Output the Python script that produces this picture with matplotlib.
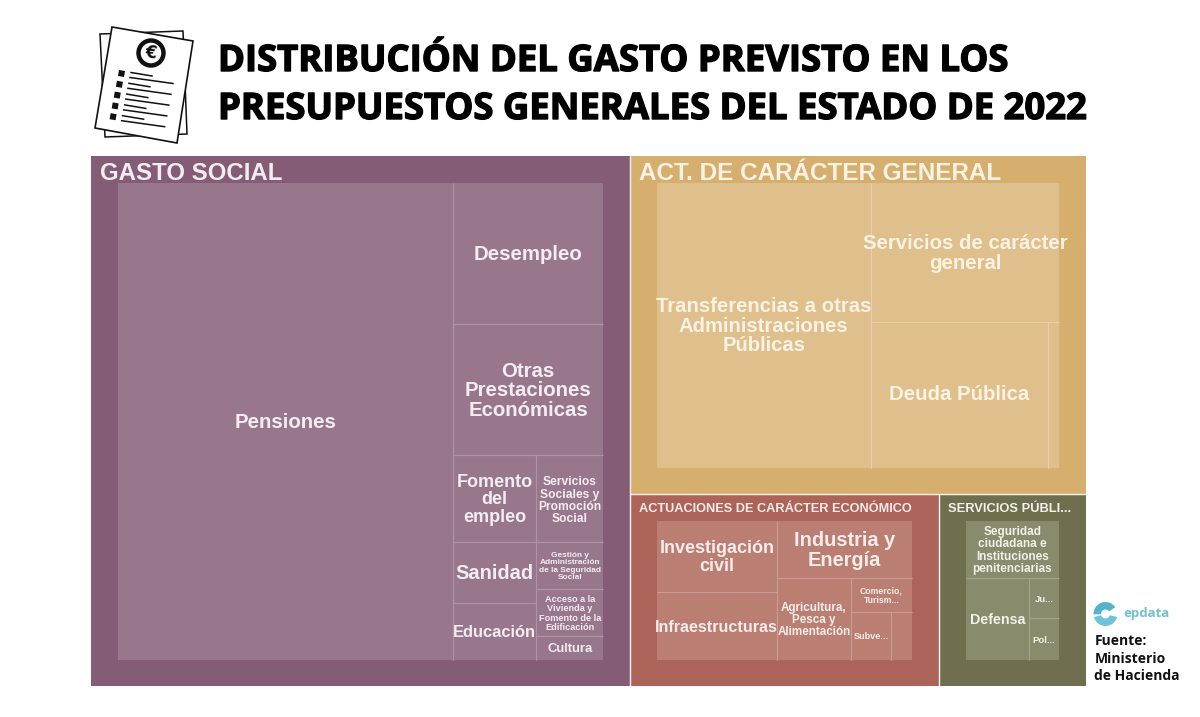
import matplotlib
matplotlib.use("Agg")
import matplotlib.pyplot as plt
from matplotlib.patches import Rectangle, Polygon, Circle, Wedge
import matplotlib.patheffects as pe

# ---------- data ----------
group_names = ["GASTO SOCIAL", "ACT. DE CARÁCTER GENERAL",
               "ACTUACIONES DE CARÁCTER ECONÓMICO", "SERVICIOS PÚBLI..."]
group_values = [285.7, 154.1, 59.3, 28.2]

social_labels = ["Pensiones", "Desempleo", "Otras\nPrestaciones\nEconómicas",
                 "Fomento\ndel\nempleo", "Sanidad", "Educación",
                 "Servicios\nSociales y\nPromoción\nSocial",
                 "Gestión y\nAdministración\nde la Seguridad\nSocial",
                 "Acceso a la\nVivienda y\nFomento de la\nEdificación", "Cultura"]
social_values = [160.3, 21.2, 19.7, 7.2, 5.1, 4.7, 5.8, 3.15, 3.15, 1.6]

general_labels = ["Transferencias a otras\nAdministraciones\nPúblicas",
                  "Servicios de carácter\ngeneral", "Deuda Pública", ""]
general_values = [60.8, 26.1, 25.7, 1.6]

economic_labels = ["Investigación\ncivil", "Infraestructuras", "Industria y\nEnergía",
                   "Agricultura,\nPesca y\nAlimentación", "Comercio,\nTurism...",
                   "Subve...", ""]
economic_values = [8.52, 8.16, 7.7, 6.07, 2.07, 1.92, 1.01]

services_labels = ["Seguridad\nciudadana e\nInstituciones\npenitenciarias",
                   "Defensa", "Ju...", "Pol..."]
services_values = [5.3, 5.17, 1.2, 1.26]

# nesting of the treemap: indices into the value lists above
group_tree = ("h", [0, ("v", [1, ("h", [2, 3])])])
social_tree = ("h", [0, ("v", [1, 2, ("h", [("v", [3, 4, 5]), ("v", [6, 7, 8, 9])])])])
general_tree = ("h", [0, ("v", [1, ("h", [2, 3])])])
economic_tree = ("h", [("v", [0, 1]), ("v", [2, ("h", [3, ("v", [4, ("h", [5, 6])])])])])
services_tree = ("v", [0, ("h", [1, ("v", [2, 3])])])

# ---------- style ----------
group_colors = ["#855C76", "#D6AE6D", "#AD6458", "#6F6F4F"]
cell_colors = ["#98778D", "#DFBF8B", "#BA7E73", "#8A8A6C"]
line_colors = ["#AC93A5", "#E8D0A8", "#CB9C93", "#A3A389"]
text_colors = ["#F3EDF1", "#FAF2E3", "#F6ECE9", "#F1F1EA"]
group_label_sizes = [24, 24.2, 12.75, 12.9]
social_sizes = [20.4, 20.4, 20.4, 18, 20, 16.5, 12, 8.3, 9.1, 13]
general_sizes = [20.3, 20.4, 20.4, 10]
economic_sizes = [18, 16.1, 20, 11.6, 8.6, 9.1, 9]
services_sizes = [11.7, 14.3, 9.5, 9.5]
social_shift = [0, 0, 0, 0, 0, 0, 1, 0, 0, 0]
general_shift = [-0.5, 0, -2, 0]
economic_shift = [0, 0, 0, 0, 0, 0, 0]
services_shift = [0, 0, 0, 0]
PX = 0.72
PAD_LEFT = 26.6
PAD_RIGHT = 27
PAD_TOP = 27
PAD_BOTTOM = 26
TREEMAP_BOX = (91, 156, 1086, 686)


def total(node, values):
    if isinstance(node, int):
        return values[node]
    return sum(total(c, values) for c in node[1])


def layout(node, values, box, out):
    """Slice-and-dice a box according to the values in the tree."""
    if isinstance(node, int):
        out[node] = box
        return out
    x0, y0, x1, y1 = box
    whole = total(node, values)
    pos = x0 if node[0] == "h" else y0
    for child in node[1]:
        share = total(child, values) / whole
        if node[0] == "h":
            step = (x1 - x0) * share
            layout(child, values, (pos, y0, pos + step, y1), out)
        else:
            step = (y1 - y0) * share
            layout(child, values, (x0, pos, x1, pos + step), out)
        pos += step
    return out


def inner_edges(ax, cell, frame, color, lw, zorder):
    """Draw only the edges of a cell that do not lie on the enclosing frame."""
    x0, y0, x1, y1 = cell
    fx0, fy0, fx1, fy1 = frame
    eps = 0.5
    if x0 > fx0 + eps:
        ax.plot([x0, x0], [y0, y1], color=color, lw=lw, zorder=zorder, solid_capstyle="butt")
    if x1 < fx1 - eps:
        ax.plot([x1, x1], [y0, y1], color=color, lw=lw, zorder=zorder, solid_capstyle="butt")
    if y0 > fy0 + eps:
        ax.plot([x0, x1], [y0, y0], color=color, lw=lw, zorder=zorder, solid_capstyle="butt")
    if y1 < fy1 - eps:
        ax.plot([x0, x1], [y1, y1], color=color, lw=lw, zorder=zorder, solid_capstyle="butt")


fig = plt.figure(figsize=(12, 7.17), dpi=100, facecolor="white")
ax = fig.add_axes([0, 0, 1, 1])
ax.set_xlim(0, 1200)
ax.set_ylim(717, 0)
ax.axis("off")

group_boxes = layout(group_tree, group_values, TREEMAP_BOX, {})
members = [(social_tree, social_values, social_labels, social_sizes, social_shift),
           (general_tree, general_values, general_labels, general_sizes, general_shift),
           (economic_tree, economic_values, economic_labels, economic_sizes, economic_shift),
           (services_tree, services_values, services_labels, services_sizes, services_shift)]

LABEL_FONT = "Liberation Sans"
for g, (tree, values, labels, sizes, shifts) in enumerate(members):
    gx0, gy0, gx1, gy1 = group_boxes[g]
    ax.add_patch(Rectangle((gx0, gy0), gx1 - gx0, gy1 - gy0, fc=group_colors[g],
                           ec="none", zorder=1))
    inner_edges(ax, group_boxes[g], TREEMAP_BOX, "#F4F0EA", 0.9, 1.5)
    ax.text(gx0 + 9, gy0 + 17 if group_label_sizes[g] > 20 else gy0 + 14.5,
            group_names[g], color=text_colors[g], family=LABEL_FONT, weight="bold",
            fontsize=group_label_sizes[g] * PX, ha="left", va="center", zorder=4)
    inner = (gx0 + PAD_LEFT, gy0 + PAD_TOP, gx1 - PAD_RIGHT, gy1 - PAD_BOTTOM)
    boxes = layout(tree, values, inner, {})
    for i, (x0, y0, x1, y1) in boxes.items():
        ax.add_patch(Rectangle((x0, y0), x1 - x0, y1 - y0, fc=cell_colors[g],
                               ec="none", zorder=2))
        inner_edges(ax, boxes[i], inner, line_colors[g], 0.8, 3)
        if labels[i]:
            ax.text((x0 + x1) / 2, (y0 + y1) / 2 + 1 + shifts[i], labels[i], color=text_colors[g],
                    family=LABEL_FONT, weight="bold", fontsize=sizes[i] * PX,
                    ha="center", va="center", ma="center", linespacing=1.05, zorder=4)

# ---------- title ----------
title_fx = [pe.withStroke(linewidth=1.0, foreground="black")]
for y, line in [(62, "DISTRIBUCIÓN DEL GASTO PREVISTO EN LOS"),
                (110, "PRESUPUESTOS GENERALES DEL ESTADO DE 2022")]:
    ax.text(218, y, line, family="Open Sans", weight="bold", fontsize=26.25, color="black",
            ha="left", va="center", path_effects=title_fx)

# ---------- icon ----------
ax.add_patch(Polygon([(100, 34), (183, 31), (187, 134), (105, 137)], closed=True,
                     fc="white", ec="#111111", lw=1.1, zorder=2))
ax.add_patch(Polygon([(112, 27), (193, 41), (177, 143), (95, 128)], closed=True,
                     fc="white", ec="#111111", lw=1.2, zorder=3))
ax.add_patch(Circle((151, 53), 12.5, fc="white", ec="#111111", lw=3.2, zorder=4))
ax.text(151, 53, "€", fontsize=12, weight="bold", family="DejaVu Sans", color="#111111",
        ha="center", va="center", rotation=-8, zorder=5)
for k in range(5):
    dx, dy = -2.1 * k, 10.8 * k
    ax.add_patch(Polygon([(119 + dx, 70 + dy), (125 + dx, 71 + dy),
                          (124 + dx, 77 + dy), (118 + dx, 76 + dy)],
                         closed=True, fc="#111111", ec="none", zorder=4))
    ax.plot([131 + dx, 152 + dx], [72.5 + dy, 76 + dy], color="#111111", lw=1.1, zorder=4)
    ax.plot([130 + dx, 173 + dx], [77.5 + dy, 83.5 + dy], color="#111111", lw=1.1, zorder=4)

# ---------- logo and source ----------
ax.add_patch(Wedge((1105.5, 614), 12, 15, 165, width=7.5, fc="#6FC3D8", ec="none", zorder=3))
ax.add_patch(Wedge((1105.5, 614), 12, 178, 325, width=7.5, fc="#52B3CD", ec="none", zorder=3))
ax.text(1123, 614, "epdata", family="Open Sans", fontsize=13.3 * PX, color="#6FC0D4",
        ha="left", va="center", weight="bold")
for y, line in [(641, "Fuente:"), (659, "Ministerio"), (676.5, "de Hacienda")]:
    ax.text(1094.5, y, line, family="Open Sans", weight="bold", fontsize=13.9 * PX,
            color="#111111", ha="left", va="center")

fig.savefig("out.png", dpi=100, facecolor="white")
